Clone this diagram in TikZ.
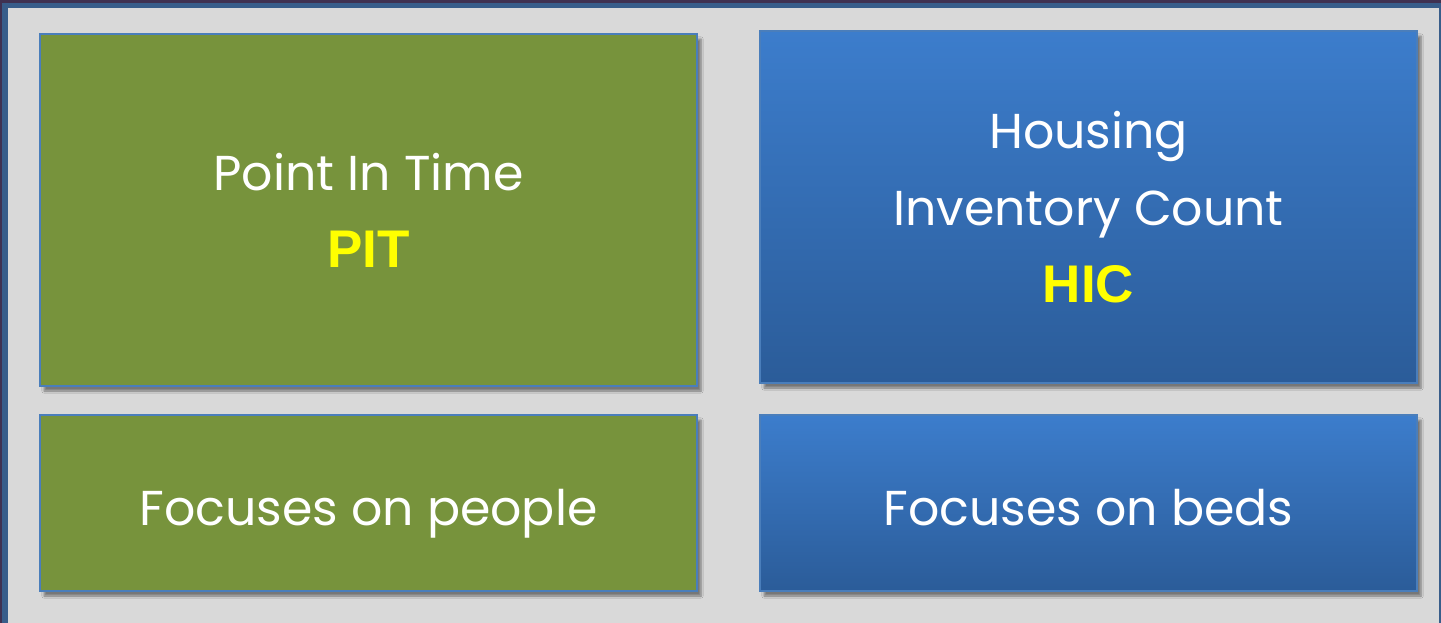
\documentclass[tikz,border=0pt]{standalone}
\usepackage{fontspec}
\setmainfont{Poppins}
\newfontfamily\abbrfont{Liberation Sans}
\usetikzlibrary{shadows.blur}

\definecolor{framepurple}{RGB}{63,49,81}
\definecolor{frameblue}{RGB}{56,93,138}
\definecolor{panelgray}{RGB}{217,217,217}
\definecolor{olivebox}{RGB}{119,147,60}
\definecolor{bluetop}{RGB}{60,125,204}
\definecolor{bluebottom}{RGB}{43,92,153}
\definecolor{cardedge}{RGB}{74,126,187}
\definecolor{abbryellow}{RGB}{255,255,0}

\newcommand{\abbr}[1]{{\abbrfont\bfseries\fontsize{53}{77}\selectfont\color{abbryellow}#1}}

\tikzset{
  card/.style={draw=cardedge, line width=1.5pt, minimum width=657pt,
    inner sep=0pt, align=center, text=white,
    font=\fontsize{49}{77}\selectfont,
    blur shadow={shadow xshift=4pt, shadow yshift=-5pt, shadow blur steps=6, shadow opacity=45}},
  tall/.style={minimum height=352pt},
  short/.style={minimum height=176pt, text height=44pt, text depth=0pt},
  greencard/.style={card, fill=olivebox},
  bluecard/.style={card, top color=bluetop, bottom color=bluebottom},
}

\begin{document}
\begin{tikzpicture}[x=1pt,y=-1pt]
        \useasboundingbox (0,0) rectangle (1441,623);
        % slide frame
        \fill[framepurple] (0,0) rectangle (1441,623);
        \fill[frameblue] (2,3) rectangle (1441,623);
        \fill[panelgray] (8,8) rectangle (1439,623);

        \node[greencard, tall] (pit) at (368.5, 210) {Point In Time\\\abbr{PIT}};
        \node[bluecard, tall] (hic) at (1088.5, 207) {Housing\\Inventory Count\\\abbr{HIC}};
        \node[greencard, short] (people) at (368.5, 503) {Focuses on people};
        \node[bluecard, short] (beds) at (1088.5, 503) {Focuses on beds};
    \end{tikzpicture}
\end{document}
